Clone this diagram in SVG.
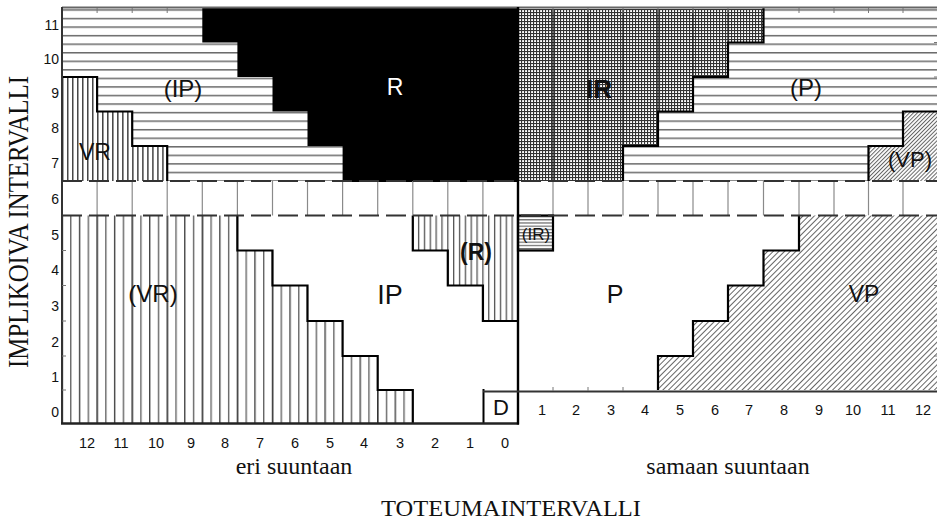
<svg xmlns="http://www.w3.org/2000/svg" width="941" height="522" viewBox="0 0 941 522">
  <defs>
    <style>
      .num { font-family: "Liberation Sans", Arial, sans-serif; font-size: 14px; fill: #111; }
      .numb { font-family: "Liberation Sans", Arial, sans-serif; font-size: 14.5px; fill: #111; text-anchor: middle; }
      .lbl { font-family: "Liberation Sans", Arial, sans-serif; font-size: 24px; fill: #111; text-anchor: middle; }
      .bold { font-weight: bold; }
      .title { font-family: "Liberation Serif", "Times New Roman", serif; font-size: 24px; fill: #111; text-anchor: middle; }
      .edge { fill: none; stroke: #000; stroke-width: 2.2; stroke-linejoin: miter; }
      .grid { stroke: #8a8a8a; stroke-width: 1.2; }
      .dash { stroke: #333; stroke-width: 2; stroke-dasharray: 20 7; }
      .tick { stroke: #777; stroke-width: 1; }
    </style>
    <!-- horizontal hatching for the (IP) and (P) fields -->
    <pattern id="hLines" patternUnits="userSpaceOnUse" x="0" y="9.25" width="10" height="8.55">
      <rect width="10" height="8.55" fill="#fff"/>
      <rect y="0" width="10" height="1.5" fill="#6a6a6a"/>
    </pattern>
    <!-- fine horizontal hatching for the small (IR) cell -->
    <pattern id="hFine" patternUnits="userSpaceOnUse" x="0" y="216" width="10" height="3.2">
      <rect width="10" height="3.2" fill="#fff"/>
      <rect width="10" height="1.2" fill="#666"/>
    </pattern>
    <!-- dense vertical hatching (upper VR) -->
    <pattern id="vDense" patternUnits="userSpaceOnUse" x="62" y="0" width="5.011" height="10">
      <rect width="5.011" height="10" fill="#fff"/>
      <rect width="1.4" height="10" fill="#444"/>
    </pattern>
    <!-- vertical hatching, six lines per column ((R) field) -->
    <pattern id="vMid" patternUnits="userSpaceOnUse" x="412.1" y="0" width="5.847" height="10">
      <rect width="5.847" height="10" fill="#fff"/>
      <rect width="1.3" height="10" fill="#555"/>
    </pattern>
    <!-- vertical hatching, four lines per column ((VR) field) -->
    <pattern id="vWide" patternUnits="userSpaceOnUse" x="61.3" y="0" width="35.08" height="10">
      <rect width="35.08" height="10" fill="#fff"/>
      <rect x="0" width="1.6" height="10" fill="#333"/>
      <rect x="8.77" width="1.4" height="10" fill="#666"/>
      <rect x="17.54" width="1.4" height="10" fill="#444"/>
      <rect x="26.31" width="1.4" height="10" fill="#666"/>
    </pattern>
    <!-- cross-hatched grid (IR field) -->
    <pattern id="xGrid" patternUnits="userSpaceOnUse" x="518" y="9" width="3" height="3">
      <rect width="3" height="3" fill="#fff"/>
      <rect width="3" height="1.1" fill="#333"/>
      <rect width="1.1" height="3" fill="#333"/>
    </pattern>
    <!-- diagonal hatching (VP field) -->
    <pattern id="diag" patternUnits="userSpaceOnUse" width="4" height="4" patternTransform="rotate(45)">
      <rect width="4" height="4" fill="#fff"/>
      <rect width="1" height="4" fill="#666"/>
    </pattern>
    <pattern id="diagDense" patternUnits="userSpaceOnUse" width="2.8" height="2.8" patternTransform="rotate(45)">
      <rect width="2.8" height="2.8" fill="#fff"/>
      <rect width="1" height="2.8" fill="#666"/>
    </pattern>
  </defs>

  <rect width="941" height="522" fill="#fff"/>

  <!-- upper half, opposite direction: (IP) background -->
  <g id="field-IP-upper">
    <rect x="62" y="8" width="456" height="173" fill="url(#hLines)"/>
    <text class="lbl" x="183" y="97">(IP)</text>
  </g>

  <!-- upper half, same direction: (P) background -->
  <g id="field-P-upper">
    <rect x="518" y="8" width="419" height="173" fill="url(#hLines)"/>
    <text class="lbl" x="806" y="96">(P)</text>
  </g>

  <g id="field-VR-upper">
    <path d="M62,77 H97.1 V111.5 H132.2 V146 H167.2 V181 H62 Z" fill="url(#vDense)"/>
    <path class="edge" d="M62,77 H97.1 V111.5 H132.2 V146 H167.2 V181"/>
    <text class="lbl" x="95" y="160" style="font-size:23px">VR</text>
  </g>

  <g id="field-R">
    <path d="M202.3,8 H518 V182 H342.6 V146 H307.5 V111.5 H272.5 V77 H237.4 V42.5 H202.3 Z" fill="#000"/>
    <text class="lbl" x="395" y="95" style="fill:#fff;font-size:23px">R</text>
  </g>

  <g id="field-IR">
    <path d="M518,9 H763.5 V42.5 H728 V77 H693 V111.5 H658 V146 H623 V181 H518 Z" fill="url(#xGrid)"/>
    <g stroke="#222" stroke-width="1.3">
      <line x1="553" y1="9" x2="553" y2="181"/>
      <line x1="588" y1="9" x2="588" y2="181"/>
      <line x1="623" y1="9" x2="623" y2="146"/>
      <line x1="658" y1="9" x2="658" y2="111.5"/>
      <line x1="693" y1="9" x2="693" y2="77"/>
      <line x1="728" y1="9" x2="728" y2="42.5"/>
    </g>
    <path class="edge" d="M763.5,8 V42.5 H728 V77 H693 V111.5 H658 V146 H623 V181"/>
    <text class="lbl bold" x="599" y="98" style="font-size:26px">IR</text>
  </g>

  <g id="field-VP-upper">
    <path d="M903,111.5 H937 V181 H868.5 V146 H903 Z" fill="url(#diagDense)"/>
    <path class="edge" d="M937,111.5 H903 V146 H868.5 V181"/>
    <text class="lbl" x="910" y="167" style="font-size:22px">(VP)</text>
  </g>

  <!-- row 6: empty band with column grid -->
  <g id="band-6">
    <g class="grid">
      <line x1="97.1" y1="181" x2="97.1" y2="215.5"/>
      <line x1="132.2" y1="181" x2="132.2" y2="215.5"/>
      <line x1="167.2" y1="181" x2="167.2" y2="215.5"/>
      <line x1="202.3" y1="181" x2="202.3" y2="215.5"/>
      <line x1="237.4" y1="181" x2="237.4" y2="215.5"/>
      <line x1="272.5" y1="181" x2="272.5" y2="215.5"/>
      <line x1="307.5" y1="181" x2="307.5" y2="215.5"/>
      <line x1="342.6" y1="181" x2="342.6" y2="215.5"/>
      <line x1="377.7" y1="181" x2="377.7" y2="215.5"/>
      <line x1="412.8" y1="181" x2="412.8" y2="215.5"/>
      <line x1="447.8" y1="181" x2="447.8" y2="215.5"/>
      <line x1="482.9" y1="181" x2="482.9" y2="215.5"/>
      <line x1="553" y1="181" x2="553" y2="215.5"/>
      <line x1="588" y1="181" x2="588" y2="215.5"/>
      <line x1="623" y1="181" x2="623" y2="215.5"/>
      <line x1="658" y1="181" x2="658" y2="215.5"/>
      <line x1="693" y1="181" x2="693" y2="215.5"/>
      <line x1="728" y1="181" x2="728" y2="215.5"/>
      <line x1="763.5" y1="181" x2="763.5" y2="215.5"/>
      <line x1="799" y1="181" x2="799" y2="215.5"/>
      <line x1="834" y1="181" x2="834" y2="215.5"/>
      <line x1="868.5" y1="181" x2="868.5" y2="215.5"/>
      <line x1="903" y1="181" x2="903" y2="215.5"/>
    </g>
  </g>

  <!-- lower half, opposite direction -->
  <g id="field-VR-lower">
    <path d="M62,215.5 H237.4 V250.5 H272.5 V285.5 H307.5 V321 H342.6 V356 H377.7 V390 H412.8 V423 H62 Z" fill="url(#vWide)"/>
    <path class="edge" d="M237.4,215.5 V250.5 H272.5 V285.5 H307.5 V321 H342.6 V356 H377.7 V390 H412.8 V423"/>
    <text class="lbl" x="153" y="302">(VR)</text>
  </g>

  <g id="field-IP-lower">
    <text class="lbl" x="390" y="304" style="font-size:27px">IP</text>
  </g>

  <g id="field-R-lower">
    <path d="M412.8,215.5 H518 V321 H482.9 V285.5 H447.8 V250.5 H412.8 Z" fill="url(#vMid)"/>
    <path class="edge" d="M412.8,215.5 V250.5 H447.8 V285.5 H482.9 V321 H518"/>
    <text class="lbl bold" x="476" y="260" style="font-size:23px">(R)</text>
  </g>

  <g id="cell-D">
    <path d="M483.5,389 V423" stroke="#000" stroke-width="2"/>
    <text class="lbl" x="501" y="415" style="font-size:22px">D</text>
  </g>

  <!-- lower half, same direction -->
  <g id="field-IR-lower">
    <rect x="518" y="215.5" width="35" height="35" fill="url(#hFine)"/>
    <rect class="edge" x="518" y="215.5" width="35" height="35"/>
    <text class="lbl" x="536" y="240" style="font-size:17px">(IR)</text>
  </g>

  <g id="field-P-lower">
    <text class="lbl" x="615" y="303" style="font-size:25px">P</text>
  </g>

  <g id="field-VP-lower">
    <path d="M658,390 V356 H693 V321 H728 V285.5 H763.5 V250.5 H799 V215.5 H937 V390 Z" fill="url(#diag)"/>
    <path class="edge" d="M658,390 V356 H693 V321 H728 V285.5 H763.5 V250.5 H799 V215.5"/>
    <text class="lbl" x="864" y="302" style="font-size:23px">VP</text>
  </g>

  <!-- axes, dashed separators and ticks -->
  <g id="axes">
    <line class="dash" x1="62" y1="181" x2="937" y2="181"/>
    <line class="dash" x1="62" y1="215.5" x2="937" y2="215.5"/>
    <line x1="62" y1="7.5" x2="937" y2="7.5" stroke="#666" stroke-width="2"/>
    <line x1="62" y1="7" x2="62" y2="424" stroke="#333" stroke-width="2"/>
    <line x1="61" y1="423.5" x2="519" y2="423.5" stroke="#222" stroke-width="2.4"/>
    <line x1="518" y1="7" x2="518" y2="424.5" stroke="#000" stroke-width="2.4"/>
    <line x1="483" y1="391.5" x2="937" y2="391.5" stroke="#333" stroke-width="2"/>
    <g class="tick">
      <line x1="97.1" y1="8" x2="97.1" y2="13"/>
      <line x1="132.2" y1="8" x2="132.2" y2="13"/>
      <line x1="167.2" y1="8" x2="167.2" y2="13"/>
      <line x1="553" y1="8" x2="553" y2="13"/>
      <line x1="588" y1="8" x2="588" y2="13"/>
      <line x1="623" y1="8" x2="623" y2="13"/>
      <line x1="658" y1="8" x2="658" y2="13"/>
      <line x1="693" y1="8" x2="693" y2="13"/>
      <line x1="728" y1="8" x2="728" y2="13"/>
      <line x1="799" y1="8" x2="799" y2="13"/>
      <line x1="834" y1="8" x2="834" y2="13"/>
      <line x1="868.5" y1="8" x2="868.5" y2="13"/>
      <line x1="903" y1="8" x2="903" y2="13"/>
      <line x1="62" y1="250.5" x2="66" y2="250.5"/>
      <line x1="62" y1="285.5" x2="66" y2="285.5"/>
      <line x1="62" y1="321" x2="66" y2="321"/>
      <line x1="62" y1="356" x2="66" y2="356"/>
      <line x1="62" y1="390" x2="66" y2="390"/>
      <line x1="553" y1="387" x2="553" y2="391"/>
      <line x1="588" y1="387" x2="588" y2="391"/>
      <line x1="623" y1="387" x2="623" y2="391"/>
      <line x1="934" y1="42.5" x2="937" y2="42.5"/>
      <line x1="934" y1="77" x2="937" y2="77"/>
      <line x1="934" y1="250.5" x2="937" y2="250.5"/>
      <line x1="934" y1="285.5" x2="937" y2="285.5"/>
      <line x1="934" y1="321" x2="937" y2="321"/>
      <line x1="934" y1="356" x2="937" y2="356"/>
    </g>
  </g>

  <!-- axis numbers -->
  <g id="y-numbers" class="num" text-anchor="end">
    <text x="59" y="30">11</text>
    <text x="59" y="64">10</text>
    <text x="59" y="98">9</text>
    <text x="59" y="133">8</text>
    <text x="59" y="168">7</text>
    <text x="59" y="204">6</text>
    <text x="59" y="240">5</text>
    <text x="59" y="275">4</text>
    <text x="59" y="311">3</text>
    <text x="59" y="347">2</text>
    <text x="59" y="382">1</text>
    <text x="59" y="417">0</text>
  </g>
  <g id="x-numbers-opposite" class="numb">
    <text x="87" y="448">12</text>
    <text x="121" y="448">11</text>
    <text x="156" y="448">10</text>
    <text x="191" y="448">9</text>
    <text x="225" y="448">8</text>
    <text x="260" y="448">7</text>
    <text x="295" y="448">6</text>
    <text x="330" y="448">5</text>
    <text x="364" y="448">4</text>
    <text x="400" y="448">3</text>
    <text x="435" y="448">2</text>
    <text x="470" y="448">1</text>
    <text x="505" y="448">0</text>
  </g>
  <g id="x-numbers-same" class="numb">
    <text x="542" y="415">1</text>
    <text x="576" y="415">2</text>
    <text x="611" y="415">3</text>
    <text x="645" y="415">4</text>
    <text x="680" y="415">5</text>
    <text x="715" y="415">6</text>
    <text x="749" y="415">7</text>
    <text x="784" y="415">8</text>
    <text x="819" y="415">9</text>
    <text x="853" y="415">10</text>
    <text x="888" y="415">11</text>
    <text x="923" y="415">12</text>
  </g>

  <!-- axis titles -->
  <g id="titles">
    <text class="title" x="294" y="474">eri suuntaan</text>
    <text class="title" x="728" y="474">samaan suuntaan</text>
    <text class="title" x="511" y="516" textLength="260" lengthAdjust="spacingAndGlyphs">TOTEUMAINTERVALLI</text>
    <text class="title" transform="translate(28,222) rotate(-90)" style="font-size:30px" textLength="292" lengthAdjust="spacingAndGlyphs">IMPLIKOIVA INTERVALLI</text>
  </g>
</svg>
